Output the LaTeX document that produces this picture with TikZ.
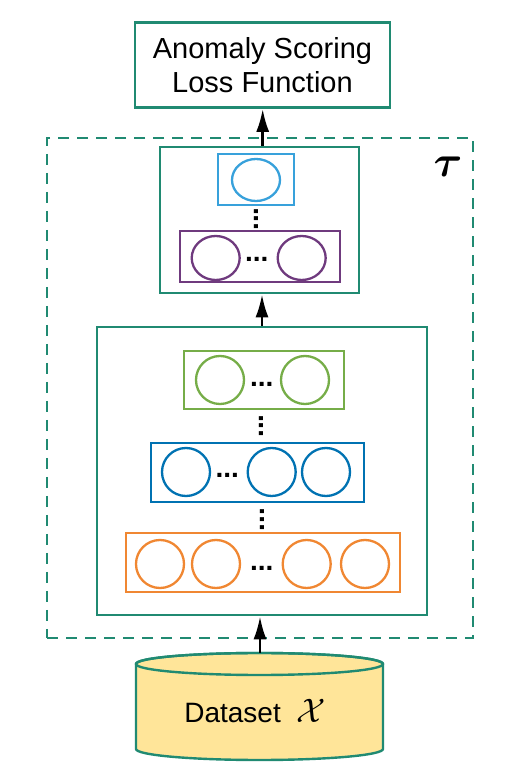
\RequirePackage{fix-cm}
\documentclass[tikz,border=0pt]{standalone}
\usepackage{fontspec}
\usepackage{amsmath}
\usepackage{bm}
\setmainfont{Liberation Sans}
\usetikzlibrary{arrows.meta,shapes.geometric}
\definecolor{tealc}{RGB}{32,138,114}
\definecolor{cyanc}{RGB}{56,161,219}
\definecolor{bluec}{RGB}{0,114,178}
\definecolor{greenc}{RGB}{118,173,72}
\definecolor{purplec}{RGB}{111,58,126}
\definecolor{orangec}{RGB}{240,135,50}
\definecolor{dbfill}{RGB}{255,229,153}

\begin{document}
\begin{tikzpicture}[x=1pt,y=1pt,
        frame/.style={draw=tealc,line width=2.6pt,inner sep=0pt},
        layer/.style={draw=#1,line width=2.4pt,inner sep=0pt},
        unit/.style={circle,draw=#1,line width=2.3pt,inner sep=0pt,minimum size=48pt},
        oval/.style={ellipse,draw=#1,line width=2.3pt,inner sep=0pt},
        hdots/.style={inner sep=0pt,font=\fontsize{28}{28}\selectfont\bfseries},
        vdots/.style={hdots,rotate=90},
        flow/.style={-{Latex[length=23pt,width=13pt]},line width=2.7pt}]
        \useasboundingbox (0,0) rectangle (520,780);

        % output and the two blocks of tau
        \node (loss) [frame,minimum width=255pt,minimum height=85pt,align=center,
            font=\fontsize{29}{34}\selectfont] at (262.5,715) {Anomaly Scoring\\Loss Function};
        \node (tau) [frame,dashed,dash pattern=on 11pt off 8pt,minimum width=426pt,minimum height=500pt] at (260,392) {};
        \node (taulabel) [inner sep=0pt] at (448,613.5) {\fontsize{44}{44}\selectfont$\boldsymbol{\tau}$};
        \node (head) [frame,minimum width=199pt,minimum height=146pt] at (259.5,560) {};
        \node (body) [frame,minimum width=330pt,minimum height=288pt] at (262,309) {};

        % head layers
        \node (cbox) [layer=cyanc,minimum width=76pt,minimum height=51pt] at (256,600.5) {};
        \node (c1) [oval=cyanc,minimum width=48pt,minimum height=42pt] at (256,600) {};
        \node (cvd) [vdots] at (256.7,561) {...};
        \node (pbox) [layer=purplec,minimum width=160pt,minimum height=51pt] at (260,523.5) {};
        \node (p1) [oval=purplec,minimum width=48pt,minimum height=44pt] at (215.7,522) {};
        \node (p2) [oval=purplec,minimum width=48pt,minimum height=44pt] at (301.7,522) {};
        \node (pdots) [hdots] at (256.7,521) {...};

        % body layers
        \node (gbox) [layer=greenc,minimum width=160pt,minimum height=58pt] at (264,400) {};
        \node (g1) [unit=greenc] at (220,400) {};
        \node (g2) [unit=greenc] at (305,400) {};
        \node (gdots) [hdots] at (261.7,396) {...};
        \node (gvd) [vdots] at (261,354) {...};
        \node (bbox) [layer=bluec,minimum width=213pt,minimum height=59pt] at (257.5,307.5) {};
        \node (b1) [unit=bluec] at (186,308) {};
        \node (b2) [unit=bluec] at (271.7,308) {};
        \node (b3) [unit=bluec] at (326,308) {};
        \node (bdots) [hdots] at (227.3,304.3) {...};
        \node (bvd) [vdots] at (262.3,260.5) {...};
        \node (obox) [layer=orangec,minimum width=274pt,minimum height=59pt] at (263,217.5) {};
        \node (o1) [unit=orangec] at (160,216) {};
        \node (o2) [unit=orangec] at (216,216) {};
        \node (o3) [unit=orangec] at (306.7,216) {};
        \node (o4) [unit=orangec] at (365,216) {};
        \node (odots) [hdots] at (261.7,212) {...};

        % dataset
        \filldraw[fill=dbfill,draw=tealc,line width=2.4pt] (136,116) -- (136,31)
            arc[start angle=180,end angle=360,x radius=123.5pt,y radius=11pt] -- (383,116)
            arc[start angle=0,end angle=180,x radius=123.5pt,y radius=11pt] -- cycle;
        \draw[tealc,line width=2.4pt] (259.5,116) ellipse[x radius=123.5pt,y radius=11pt];
        \node (data) [minimum width=247pt,minimum height=107pt,inner sep=0pt] at (259.5,73.5) {};
        \node (datalabel) [font=\fontsize{28}{28}\selectfont,anchor=base] at (255,57.3)
            {Dataset \ {\fontsize{34}{34}\selectfont$\mathcal{X}$}};

        \draw[flow] (data.north -| 260,0) -- (body.south -| 260,0);
        \draw[flow] (body.north -| 262,0) -- (head.south -| 262,0);
        \draw[flow] (head.north -| 262.7,0) -- (loss.south -| 262.7,0);
\end{tikzpicture}
\end{document}
